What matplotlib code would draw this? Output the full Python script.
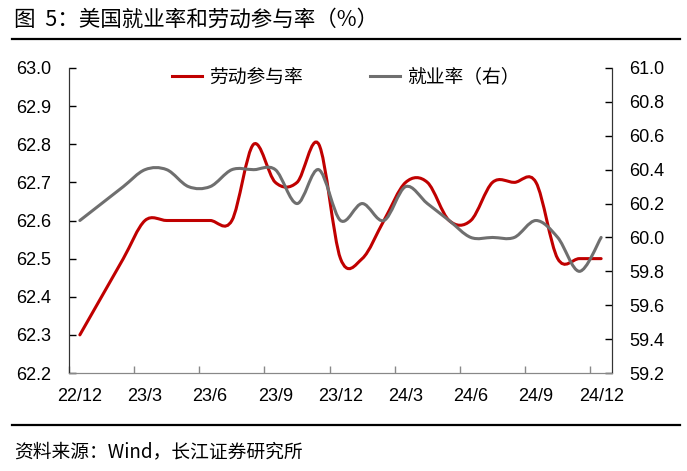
"""
Figure 5: US employment-population ratio and labour force participation rate.
Excel-style smoothed lines drawn as cubic Bezier paths in data coordinates.
"""

import matplotlib
matplotlib.use("Agg")
import matplotlib.pyplot as plt
from matplotlib.path import Path
from matplotlib.patches import PathPatch
from matplotlib.lines import Line2D

plt.rcParams["font.family"] = ["Liberation Sans", "Noto Sans CJK SC", "DejaVu Sans"]

# ── data ─────────────────────────────────────────────────────────
months = ["22/12", "23/1", "23/2", "23/3", "23/4", "23/5", "23/6", "23/7",
          "23/8", "23/9", "23/10", "23/11", "23/12", "24/1", "24/2", "24/3",
          "24/4", "24/5", "24/6", "24/7", "24/8", "24/9", "24/10", "24/11",
          "24/12"]
lfpr = [62.3, 62.4, 62.5, 62.6, 62.6, 62.6, 62.6, 62.6, 62.8, 62.7, 62.7,
        62.8, 62.5, 62.5, 62.6, 62.7, 62.7, 62.6, 62.6, 62.7, 62.7, 62.7,
        62.5, 62.5, 62.5]
emp_ratio = [60.1, 60.2, 60.3, 60.4, 60.4, 60.3, 60.3, 60.4, 60.4, 60.4,
             60.2, 60.4, 60.1, 60.2, 60.1, 60.3, 60.2, 60.1, 60.0, 60.0,
             60.0, 60.1, 60.0, 59.8, 60.0]

left_ticks = [62.2, 62.3, 62.4, 62.5, 62.6, 62.7, 62.8, 62.9, 63.0]
right_ticks = [59.2, 59.4, 59.6, 59.8, 60.0, 60.2, 60.4, 60.6, 60.8, 61.0]

RED = "#C00000"
GREY = "#6F6F6F"
CJK = ["Noto Sans CJK SC", "DejaVu Sans"]


def smooth_path(xs, ys):
    """Excel-like smoothing: Catmull-Rom tangents turned into Bezier controls."""
    n = len(xs)
    verts = [(xs[0], ys[0])]
    codes = [Path.MOVETO]
    for i in range(n - 1):
        i0, i2, i3 = max(i - 1, 0), i + 1, min(i + 2, n - 1)
        c1 = (xs[i] + (xs[i2] - xs[i0]) / 6, ys[i] + (ys[i2] - ys[i0]) / 6)
        c2 = (xs[i2] - (xs[i3] - xs[i]) / 6, ys[i2] - (ys[i3] - ys[i]) / 6)
        verts += [c1, c2, (xs[i2], ys[i2])]
        codes += [Path.CURVE4] * 3
    return Path(verts, codes)


fig = plt.figure(figsize=(6.87, 4.71), dpi=100)
ax = fig.add_axes([69 / 687, 1 - 373 / 471, 543 / 687, 305 / 471])
ax2 = ax.twinx()

x = list(range(len(months)))
ax.add_patch(PathPatch(smooth_path(x, lfpr), fill=False, edgecolor=RED,
                       lw=2.2, capstyle="round", zorder=3))
ax2.add_patch(PathPatch(smooth_path(x, emp_ratio), fill=False, edgecolor=GREY,
                        lw=2.2, capstyle="round", zorder=3))

ax.set_xlim(-0.5, len(months) - 0.5)
ax.set_ylim(62.2, 63.0)
ax2.set_ylim(59.2, 61.0)

# category labels every 3 months, tick marks on category boundaries
label_idx = list(range(0, len(months), 3))
ax.set_xticks(label_idx)
ax.set_xticklabels([months[i] for i in label_idx], fontsize=13)
ax.tick_params(axis="x", length=0, pad=11)
ax.set_xticks([i - 0.5 for i in label_idx], minor=True)
ax.tick_params(axis="x", which="minor", direction="in", length=5,
               color="#888888", width=1)

ax.set_yticks(left_ticks)
ax.set_yticklabels([f"{v:.1f}" for v in left_ticks], fontsize=13)
ax.tick_params(axis="y", direction="in", length=5, width=1, pad=13)
ax2.set_yticks(right_ticks)
ax2.set_yticklabels([f"{v:.1f}" for v in right_ticks], fontsize=13)
ax2.tick_params(axis="y", direction="in", length=5, width=1, pad=12.5)

for a in (ax, ax2):
    a.spines["top"].set_visible(False)
    a.spines["left"].set_color("#333333")
    a.spines["right"].set_color("#333333")
    a.spines["bottom"].set_color("#888888")

handles = [Line2D([], [], color=RED, lw=2.2),
           Line2D([], [], color=GREY, lw=2.2)]
ax.legend(handles, ["劳动参与率", "就业率（右）"], loc="upper center",
          bbox_to_anchor=(0.51, 1.06), ncol=2, frameon=False,
          prop={"family": CJK, "size": 13.5}, columnspacing=3.6,
          handlelength=1.6, handletextpad=0.35)

# title, rules and source
fig.text(14 / 687, 1 - 20 / 471, "图  5：美国就业率和劳动参与率（%）",
         fontsize=15.5, family=CJK, va="center", ha="left")
fig.add_artist(Line2D([12 / 687, 680 / 687], [1 - 39 / 471, 1 - 39 / 471],
                      color="black", lw=1.6))
fig.add_artist(Line2D([12 / 687, 680 / 687], [1 - 425 / 471, 1 - 425 / 471],
                      color="black", lw=1.6))
fig.text(14 / 687, 1 - 452 / 471, "资料来源：Wind，长江证券研究所",
         fontsize=13.5, family=CJK, va="center", ha="left")

fig.savefig("out.png", dpi=100)
